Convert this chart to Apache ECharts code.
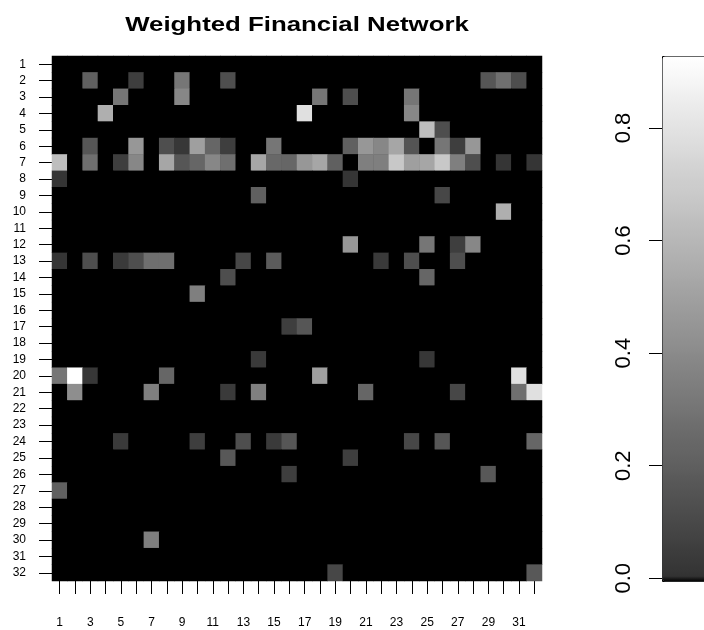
<!DOCTYPE html>
<html>
<head>
<meta charset="utf-8">
<script src="https://cdn.jsdelivr.net/npm/echarts@6/dist/echarts.min.js"></script>
<style>html,body{margin:0;padding:0;background:#fff}#c{width:704px;height:630px}</style>
</head>
<body>
<div id="c"></div>
<script>
const titleText = 'Weighted Financial Network';
const rowLabels = ['1','2','3','4','5','6','7','8','9','10','11','12','13','14','15','16','17','18','19','20','21','22','23','24','25','26','27','28','29','30','31','32'];
const colLabels = ['1','2','3','4','5','6','7','8','9','10','11','12','13','14','15','16','17','18','19','20','21','22','23','24','25','26','27','28','29','30','31','32'];
const legendMin = 0;
const legendMax = 0.93;
const legendTickStep = 0.2;
const legendTickMax = 0.8;
// weights[row][col], rows 1..32 top to bottom, cols 1..32 left to right
const weights = [
 [0,0,0,0,0,0,0,0, 0,0,0,0,0,0,0,0, 0,0,0,0,0,0,0,0, 0,0,0,0,0,0,0,0],
 [0,0,.21,0,0,.06,0,0, .31,0,0,.13,0,0,0,0, 0,0,0,0,0,0,0,0, 0,0,0,0,.17,.28,.13,0],
 [0,0,0,0,.31,0,0,0, .39,0,0,0,0,0,0,0, 0,.31,0,.13,0,0,0,.31, 0,0,0,0,0,0,0,0],
 [0,0,0,.57,0,0,0,0, 0,0,0,0,0,0,0,0, .79,0,0,0,0,0,0,.39, 0,0,0,0,0,0,0,0],
 [0,0,0,0,0,0,0,0, 0,0,0,0,0,0,0,0, 0,0,0,0,0,0,0,0, .64,.13,0,0,0,0,0,0],
 [0,0,.17,0,0,.46,0,.13, .03,.50,.24,.06,0,0,.31,0, 0,0,0,.21,.46,.39,.53,.16, 0,.31,.06,.46,0,0,0,0],
 [.64,0,.28,0,.06,.39,0,.53, .17,.24,.39,.28,0,.53,.25,.24, .46,.53,.21,0,.35,.35,.68,.50, .53,.68,.35,.13,0,.02,0,.02],
 [.02,0,0,0,0,0,0,0, 0,0,0,0,0,0,0,0, 0,0,0,.02,0,0,0,0, 0,0,0,0,0,0,0,0],
 [0,0,0,0,0,0,0,0, 0,0,0,0,0,.21,0,0, 0,0,0,0,0,0,0,0, 0,.10,0,0,0,0,0,0],
 [0,0,0,0,0,0,0,0, 0,0,0,0,0,0,0,0, 0,0,0,0,0,0,0,0, 0,0,0,0,0,.57,0,0],
 [0,0,0,0,0,0,0,0, 0,0,0,0,0,0,0,0, 0,0,0,0,0,0,0,0, 0,0,0,0,0,0,0,0],
 [0,0,0,0,0,0,0,0, 0,0,0,0,0,0,0,0, 0,0,0,.46,0,0,0,0, .31,0,.06,.39,0,0,0,0],
 [.02,0,.13,0,.04,.13,.28,.28, 0,0,0,0,.10,0,.19,0, 0,0,0,0,0,.04,0,.13, 0,0,.13,0,0,0,0,0],
 [0,0,0,0,0,0,0,0, 0,0,0,.13,0,0,0,0, 0,0,0,0,0,0,0,0, .24,0,0,0,0,0,0,0],
 [0,0,0,0,0,0,0,0, 0,.35,0,0,0,0,0,0, 0,0,0,0,0,0,0,0, 0,0,0,0,0,0,0,0],
 [0,0,0,0,0,0,0,0, 0,0,0,0,0,0,0,0, 0,0,0,0,0,0,0,0, 0,0,0,0,0,0,0,0],
 [0,0,0,0,0,0,0,0, 0,0,0,0,0,0,0,.06, .17,0,0,0,0,0,0,0, 0,0,0,0,0,0,0,0],
 [0,0,0,0,0,0,0,0, 0,0,0,0,0,0,0,0, 0,0,0,0,0,0,0,0, 0,0,0,0,0,0,0,0],
 [0,0,0,0,0,0,0,0, 0,0,0,0,0,.04,0,0, 0,0,0,0,0,0,0,0, .03,0,0,0,0,0,0,0],
 [.31,.93,.03,0,0,0,0,.24, 0,0,0,0,0,0,0,0, 0,.50,0,0,0,0,0,0, 0,0,0,0,0,0,.79,0],
 [0,.42,0,0,0,0,.35,0, 0,0,0,.04,0,.35,0,0, 0,0,0,0,.24,0,0,0, 0,0,.10,0,0,0,.28,.79],
 [0,0,0,0,0,0,0,0, 0,0,0,0,0,0,0,0, 0,0,0,0,0,0,0,0, 0,0,0,0,0,0,0,0],
 [0,0,0,0,0,0,0,0, 0,0,0,0,0,0,0,0, 0,0,0,0,0,0,0,0, 0,0,0,0,0,0,0,0],
 [0,0,0,0,.04,0,0,0, 0,.06,0,0,.13,0,.04,.17, 0,0,0,0,0,0,0,.10, 0,.17,0,0,0,0,0,.24],
 [0,0,0,0,0,0,0,0, 0,0,0,.18,0,0,0,0, 0,0,0,.06,0,0,0,0, 0,0,0,0,0,0,0,0],
 [0,0,0,0,0,0,0,0, 0,0,0,0,0,0,0,.06, 0,0,0,0,0,0,0,0, 0,0,0,0,.18,0,0,0],
 [.21,0,0,0,0,0,0,0, 0,0,0,0,0,0,0,0, 0,0,0,0,0,0,0,0, 0,0,0,0,0,0,0,0],
 [0,0,0,0,0,0,0,0, 0,0,0,0,0,0,0,0, 0,0,0,0,0,0,0,0, 0,0,0,0,0,0,0,0],
 [0,0,0,0,0,0,0,0, 0,0,0,0,0,0,0,0, 0,0,0,0,0,0,0,0, 0,0,0,0,0,0,0,0],
 [0,0,0,0,0,0,.35,0, 0,0,0,0,0,0,0,0, 0,0,0,0,0,0,0,0, 0,0,0,0,0,0,0,0],
 [0,0,0,0,0,0,0,0, 0,0,0,0,0,0,0,0, 0,0,0,0,0,0,0,0, 0,0,0,0,0,0,0,0],
 [0,0,0,0,0,0,0,0, 0,0,0,0,0,0,0,0, 0,0,.10,0,0,0,0,0, 0,0,0,0,0,0,0,.18]
];

const cells = [];
weights.forEach((row, r) => row.forEach((v, c) => cells.push([c, r, v])));

// palette: black for zero, then linear grey ramp (like R's image.plot legend)
const greys = ['#000000'];
for (let i = 0; i < 99; i++) {
  const g = Math.round(0x33 + (0xff - 0x33) * i / 98);
  greys.push('rgb(' + g + ',' + g + ',' + g + ')');
}

const FONT = '"Liberation Sans", Arial, Helvetica, sans-serif';
const chart = echarts.init(document.getElementById('c'), null, {renderer: 'canvas'});
chart.setOption({
  animation: false,
  backgroundColor: '#ffffff',
  grid: [
    {left: 52, top: 56, width: 490, height: 525, show: true, backgroundColor: '#000000', borderWidth: 0, outerBoundsMode: 'none', containLabel: false},
    {left: 662, top: 128, width: 20, height: 450.3, show: false, outerBoundsMode: 'none', containLabel: false}
  ],
  xAxis: [
    {type: 'category', gridIndex: 0, data: colLabels, position: 'bottom',
     axisLine: {show: false},
     axisTick: {show: true, interval: 0, length: 13, alignWithLabel: true, lineStyle: {color: '#000', width: 1}},
     axisLabel: {interval: 1, margin: 36, fontSize: 12, color: '#000', fontFamily: FONT},
     splitLine: {show: false}},
    {type: 'value', gridIndex: 1, show: false}
  ],
  yAxis: [
    {type: 'category', gridIndex: 0, data: rowLabels, inverse: true, position: 'left',
     axisLine: {show: false},
     axisTick: {show: true, interval: 0, length: 13, alignWithLabel: true, lineStyle: {color: '#000', width: 1}},
     axisLabel: {interval: 0, margin: 26, fontSize: 12, color: '#000', fontFamily: FONT},
     splitLine: {show: false}},
    {type: 'value', gridIndex: 1, min: legendMin, max: legendTickMax, interval: legendTickStep, position: 'left',
     axisLine: {show: false},
     axisTick: {show: true, length: 13, lineStyle: {color: '#000', width: 1}},
     axisLabel: {rotate: 90, fontSize: 22, margin: 27, color: '#000', fontFamily: FONT, formatter: v => v.toFixed(1)},
     splitLine: {show: false}}
  ],
  visualMap: {
    type: 'continuous', min: legendMin, max: legendMax, seriesIndex: 0, dimension: 2,
    orient: 'vertical', left: 662, top: 56, itemWidth: 60, itemHeight: 525, padding: 0,
    calculable: false, hoverLink: false, showLabel: false,
    inRange: {color: greys},
    borderColor: '#000', borderWidth: 1
  },
  graphic: [
    {type: 'text', x: 297, y: 25, scaleX: 1.29, scaleY: 1,
     style: {text: titleText, font: 'bold 20px ' + FONT, textAlign: 'center', textVerticalAlign: 'middle', fill: '#000'}}
  ],
  series: [
    {type: 'heatmap', xAxisIndex: 0, yAxisIndex: 0, data: cells,
     itemStyle: {borderWidth: 0}, emphasis: {disabled: true}, progressive: 0}
  ]
});
</script>
</body>
</html>
